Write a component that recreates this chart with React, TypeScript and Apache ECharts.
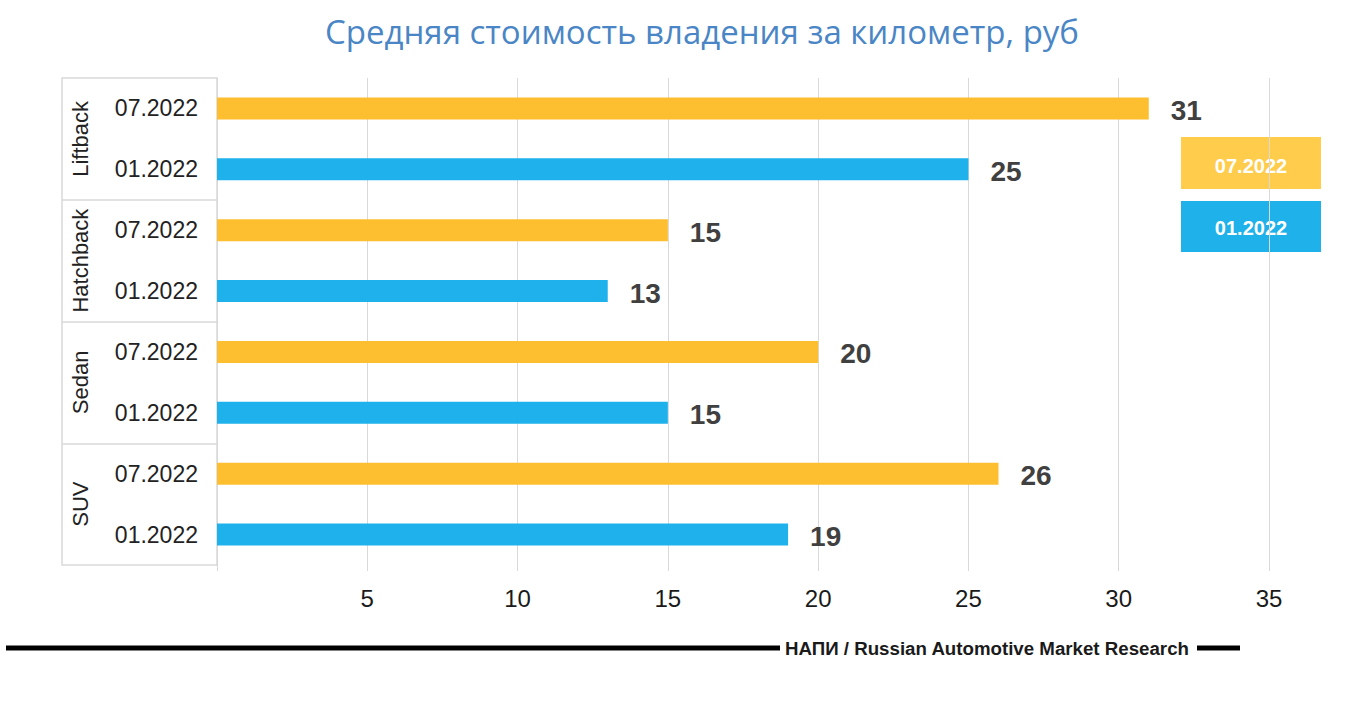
import React, { useEffect, useRef } from "react";
import * as echarts from "echarts";

const groups = ["Liftback", "Hatchback", "Sedan", "SUV"];
const periods = ["07.2022", "01.2022"];
const values0722 = [31, 15, 20, 26];
const values0122 = [25, 13, 15, 19];
const xTicks = [0, 5, 10, 15, 20, 25, 30, 35];

const periodColors: Record<string, string> = {
  "07.2022": "#FDBE2F",
  "01.2022": "#1FB1EB",
};
const legendColors: Record<string, string> = {
  "07.2022": "#FFCC4B",
  "01.2022": "#1FB1EA",
};

export default function App() {
  const ref = useRef<HTMLDivElement>(null);
  useEffect(() => {
    if (!ref.current) return;
    const chart = echarts.init(ref.current, null, { renderer: "svg" });

    const categories: string[] = [];
    const data: any[] = [];
    groups.forEach((g, i) => {
      categories.push(periods[0]);
      data.push({ value: values0722[i], itemStyle: { color: periodColors[periods[0]] } });
      categories.push(periods[1]);
      data.push({ value: values0122[i], itemStyle: { color: periodColors[periods[1]] } });
    });

    const font = "'Liberation Sans', Arial, sans-serif";
    const lineColor = "#d9d9d9";

    chart.setOption({
      animation: false,
      backgroundColor: "#ffffff",
      title: {
        text: "Средняя стоимость владения за километр, руб",
        left: 320,
        top: 10,
        textStyle: {
          color: "#4A86C5",
          fontSize: 33,
          fontWeight: "normal",
          fontFamily: "'Open Sans', sans-serif",
        },
      },
      grid: { left: 217, right: 89, top: 78, bottom: 137 },
      xAxis: {
        type: "value",
        min: xTicks[0],
        max: xTicks[xTicks.length - 1],
        interval: 5,
        axisLine: { show: false },
        axisTick: { show: true, length: 6, lineStyle: { color: lineColor } },
        splitLine: { show: true, lineStyle: { color: lineColor, width: 1 } },
        axisLabel: {
          margin: 21,
          fontSize: 24,
          color: "#1a1a1a",
          fontFamily: font,
          formatter: (v: number) => (v === 0 ? "" : String(v)),
        },
      },
      yAxis: [
        {
          type: "category",
          data: categories,
          inverse: true,
          axisLine: { show: true, lineStyle: { color: lineColor, width: 1.5 } },
          axisTick: { show: false },
          axisLabel: { margin: 19, fontSize: 23, color: "#222222", fontFamily: font },
        },
        {
          type: "category",
          data: groups,
          inverse: true,
          position: "left",
          offset: 0,
          axisLine: { show: false },
          axisTick: { show: true, length: 155, interval: 0, lineStyle: { color: lineColor, width: 1.5 } },
          axisLabel: {
            rotate: 90,
            margin: 126,
            fontSize: 22,
            color: "#222222",
            fontFamily: font,
            interval: 0,
          },
        },
        {
          type: "category",
          data: groups,
          inverse: true,
          position: "left",
          offset: 155,
          axisLine: { show: true, lineStyle: { color: lineColor, width: 1.5 } },
          axisTick: { show: false },
          axisLabel: { show: false },
        },
      ],
      series: [
        {
          type: "bar",
          yAxisIndex: 0,
          data,
          barWidth: 22,
          label: {
            show: true,
            position: "right",
            distance: 22,
            offset: [0, 2],
            fontSize: 28,
            fontWeight: "bold",
            color: "#404040",
            fontFamily: font,
          },
        },
      ],
      graphic: [
        {
          type: "group",
          left: 1181,
          top: 137,
          children: [
            { type: "rect", shape: { x: 0, y: 0, width: 140, height: 52 }, style: { fill: legendColors[periods[0]] } },
            {
              type: "text",
              x: 70,
              y: 29,
              style: {
                text: periods[0],
                fill: "#ffffff",
                fontSize: 20,
                fontWeight: "bold",
                fontFamily: font,
                align: "center",
                verticalAlign: "middle",
              },
            },
            { type: "rect", shape: { x: 0, y: 64, width: 140, height: 51 }, style: { fill: legendColors[periods[1]] } },
            {
              type: "text",
              x: 70,
              y: 91,
              style: {
                text: periods[1],
                fill: "#ffffff",
                fontSize: 20,
                fontWeight: "bold",
                fontFamily: font,
                align: "center",
                verticalAlign: "middle",
              },
            },
          ],
        },
        {
          type: "line",
          shape: { x1: 6, y1: 648, x2: 780, y2: 648 },
          style: { stroke: "#000000", lineWidth: 5 },
        },
        {
          type: "text",
          x: 785,
          y: 648,
          style: {
            text: "НАПИ / Russian Automotive Market Research",
            fill: "#1a1a1a",
            fontSize: 18.7,
            fontWeight: "bold",
            fontFamily: font,
            verticalAlign: "middle",
          },
        },
        {
          type: "line",
          shape: { x1: 1197, y1: 648, x2: 1240, y2: 648 },
          style: { stroke: "#000000", lineWidth: 5 },
        },
      ],
    });
    return () => chart.dispose();
  }, []);
  return (
    <div
      ref={ref}
      style={{ position: "fixed", left: 0, top: 0, width: 1358, height: 702 }}
    />
  );
}
